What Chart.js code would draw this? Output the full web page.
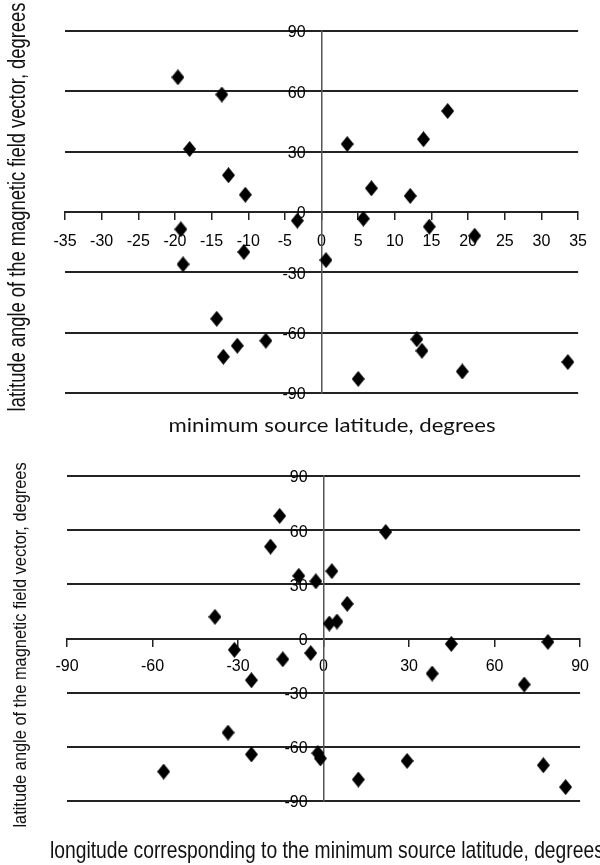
<!DOCTYPE html>
<html>
<head>
<meta charset="utf-8">
<script src="https://cdn.jsdelivr.net/npm/chart.js@4"></script>
<style>
  html, body { margin: 0; padding: 0; background: #fff; overflow: hidden; }
  body { width: 600px; height: 865px; position: relative; }
  .box { position: absolute; left: 0; width: 600px; }
  .title { position: absolute; white-space: nowrap; color: #111; line-height: 1; font-family: 'Liberation Sans', Arial, sans-serif; }
  .centered { transform-origin: center center; }
</style>
</head>
<body>
<div class="box" style="top:0;height:440px"><canvas id="topChart" width="600" height="440"></canvas></div>
<div class="box" style="top:440px;height:425px"><canvas id="bottomChart" width="600" height="425"></canvas></div>

<div class="title centered" id="yTitleTop" style="font-size:23px">latitude angle of the magnetic field vector, degrees</div>
<div class="title centered" id="xTitleTop" style="font-size:19px;font-family:Lato, sans-serif">minimum source latitude, degrees</div>
<div class="title centered" id="yTitleBottom" style="font-size:18px">latitude angle of the magnetic field vector, degrees</div>
<div class="title" id="xTitleBottom" style="font-size:24px;transform-origin:left center">longitude corresponding to the minimum source latitude, degrees</div>

<script>
// top panel: minimum source latitude vs field vector latitude angle
const topLatitude = [-19.6, -13.6, -18.0, -12.7, -10.4, 3.5, 6.8, 12.1, 13.9, 17.2,
  -3.3, -19.2, -18.9, -10.6, 5.7, 14.7, 20.9, 0.6, -14.3, -13.4, -11.5, -7.6, 13.0, 13.7, 5.0, 19.2, 33.6];
const topAngle = [67, 58.4, 31.3, 18.3, 8.6, 33.8, 11.8, 8.0, 36.2, 50.2,
  -4.3, -8.6, -26, -19.9, -3.3, -7.3, -11.8, -23.9, -53.1, -72, -66.5, -64, -63.3, -69, -83, -79.3, -74.6];

// bottom panel: longitude of the minimum source latitude vs field vector latitude angle
const bottomLongitude = [-15.4, -18.6, 21.8, -8.7, -2.7, 2.9, 8.3, -38.1, 2.0, 4.7,
  -31.3, -14.3, -4.5, 44.8, 78.7, -25.3, 38.1, 70.4, -33.5, -25.3, -2.0, -1.1, -56.1, 12.2, 29.3, 77.1, 84.9];
const bottomAngle = [67.9, 50.9, 59.0, 34.7, 31.7, 37.3, 19.2, 12.0, 8.3, 9.4,
  -6.3, -11.5, -8.1, -3.0, -1.9, -23.1, -19.4, -25.5, -52.1, -64.2, -63.5, -66.4, -73.7, -78.1, -67.8, -70.2, -82.3];

// tick values
const topXTicks = [-35, -30, -25, -20, -15, -10, -5, 0, 5, 10, 15, 20, 25, 30, 35];
const bottomXTicks = [-90, -60, -30, 0, 30, 60, 90];
const yTicks = [-90, -60, -30, 0, 30, 60, 90];

// squeeze a title to a given length, centred on (cx, cy)
function placeTitle(id, cx, cy, length, rotate) {
  const el = document.getElementById(id);
  const k = length / el.offsetWidth;
  el.style.left = cx + 'px';
  el.style.top = cy + 'px';
  el.style.transform = 'translate(-50%, -50%)' + (rotate ? ' rotate(-90deg)' : '') + ' scaleX(' + k + ')';
}
placeTitle('yTitleTop', 17, 207, 409, true);
placeTitle('xTitleTop', 332, 424, 327, false);
placeTitle('yTitleBottom', 20, 645, 365, true);

const xb = document.getElementById('xTitleBottom');
xb.style.left = '50px';
xb.style.top = (850 - xb.offsetHeight / 2) + 'px';
xb.style.transform = 'scaleX(' + (554 / xb.offsetWidth) + ')';

// elongated black diamond marker
function makeDiamond(w, h) {
  const c = document.createElement('canvas');
  c.width = w; c.height = h;
  const ctx = c.getContext('2d');
  ctx.fillStyle = '#000';
  ctx.beginPath();
  ctx.moveTo(w / 2, 0);
  ctx.lineTo(w, h / 2);
  ctx.lineTo(w / 2, h);
  ctx.lineTo(0, h / 2);
  ctx.closePath();
  ctx.fill();
  return c;
}
const diamond = makeDiamond(13, 16);

const tickFont = { family: "'Liberation Sans', Arial, sans-serif", size: 16 };

function buildChart(canvasId, xs, ys, xTicks, padding, labelGap) {
  const points = xs.map((x, i) => ({ x: x, y: ys[i] }));
  return new Chart(document.getElementById(canvasId), {
    type: 'scatter',
    data: {
      datasets: [{
        data: points,
        pointStyle: diamond,
        pointRadius: 7,
        pointHoverRadius: 7
      }]
    },
    options: {
      responsive: false,
      animation: false,
      layout: { padding: padding },
      plugins: { legend: { display: false }, tooltip: { enabled: false } },
      scales: {
        x: {
          type: 'linear',
          position: { y: 0 },
          min: xTicks[0],
          max: xTicks[xTicks.length - 1],
          afterBuildTicks: s => { s.ticks = xTicks.map(v => ({ value: v })); },
          afterFit: s => { s.height = 0; },
          grid: { drawOnChartArea: false, drawTicks: true, tickLength: 7, color: '#222', lineWidth: 1.5 },
          border: { display: true, color: '#222', width: 2 },
          ticks: { color: '#000', font: tickFont, padding: labelGap, maxRotation: 0, autoSkip: false }
        },
        y: {
          type: 'linear',
          position: { x: 0 },
          min: -90,
          max: 90,
          afterBuildTicks: s => { s.ticks = yTicks.map(v => ({ value: v })); },
          afterFit: s => { s.width = 0; },
          grid: { drawTicks: false, color: '#222', lineWidth: 2 },
          border: { display: true, color: '#555', width: 1.5 },
          // labels sit right against a centred axis, so pad them with en spaces
          ticks: { color: '#000', font: tickFont, labelOffset: 2, callback: v => v + '\u2002\u2002' }
        }
      }
    }
  });
}

buildChart('topChart', topLatitude, topAngle, topXTicks, { left: 65, right: 14, top: 31, bottom: 47 }, 13);
buildChart('bottomChart', bottomLongitude, bottomAngle, bottomXTicks, { left: 67, right: 13, top: 36, bottom: 64 }, 11);
</script>
</body>
</html>
